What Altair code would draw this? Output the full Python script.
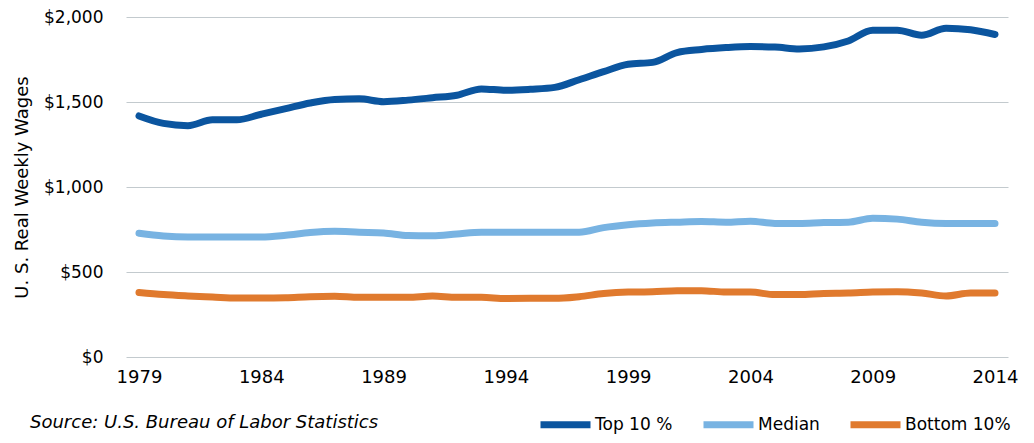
import altair as alt
import pandas as pd

years = list(range(1979, 2015))
top10 = [1418, 1374, 1361, 1395, 1395, 1428, 1461, 1494, 1515, 1519, 1502, 1511,
         1525, 1540, 1577, 1569, 1575, 1586, 1631, 1679, 1722, 1733, 1791, 1809,
         1820, 1826, 1823, 1812, 1824, 1859, 1922, 1922, 1893, 1934, 1925, 1897]
median = [728, 712, 706, 706, 706, 706, 716, 732, 739, 734, 730, 714,
          713, 724, 734, 734, 734, 734, 734, 761, 778, 788, 793, 797,
          793, 799, 786, 786, 791, 793, 816, 811, 793, 786, 786, 786]
bottom10 = [380, 367, 359, 353, 347, 347, 349, 355, 357, 351, 351, 351,
            359, 351, 351, 344, 345, 345, 355, 373, 382, 384, 390, 390,
            382, 382, 367, 367, 374, 376, 382, 384, 376, 359, 376, 376]

series_names = ["Top 10 %", "Median", "Bottom 10%"]
series_colors = ["#0b559f", "#78b3e2", "#e07a2e"]
x_ticks = [1979, 1984, 1989, 1994, 1999, 2004, 2009, 2014]
y_ticks = [0, 500, 1000, 1500, 2000]
source_note = ["Source: U.S. Bureau of Labor Statistics"]

rows = []
for k, (name, vals) in enumerate(zip(series_names, [top10, median, bottom10])):
    for yr, v in zip(years, vals):
        rows.append({"year": yr, "wage": v, "series": name, "order": k})
df = pd.DataFrame(rows)

FONT = "DejaVu Sans"

lines = alt.Chart(df).mark_line(
    strokeWidth=7, strokeCap="round", strokeJoin="round", interpolate="monotone"
).encode(
    x=alt.X("year:Q",
            scale=alt.Scale(domain=[1979, 2014], nice=False, zero=False, padding=13),
            axis=alt.Axis(values=x_ticks, format="d", grid=False, ticks=False, domain=False,
                          labelPadding=11, labelFontSize=18, labelColor="#000000",
                          labelFont=FONT, title=None)),
    y=alt.Y("wage:Q",
            scale=alt.Scale(domain=[0, 2000], nice=False),
            axis=alt.Axis(values=y_ticks, format="$,.0f", grid=True, gridColor="#c3cace",
                          gridWidth=1, ticks=False, domain=False, labelPadding=23,
                          labelFontSize=17, labelColor="#000000", labelFont=FONT,
                          title="U. S. Real Weekly Wages", titleFont=FONT, titleFontSize=18,
                          titleFontWeight="normal", titleColor="#000000", titlePadding=12)),
    color=alt.Color("series:N",
                    scale=alt.Scale(domain=series_names, range=series_colors),
                    legend=alt.Legend(orient="none", legendX=411, legendY=379,
                                      direction="horizontal", title=None,
                                      symbolType="stroke", symbolSize=2500,
                                      symbolStrokeWidth=7, labelFontSize=17,
                                      labelFont=FONT, labelColor="#000000",
                                      labelOffset=1, columnPadding=16)),
    order="order:Q",
)

note = alt.Chart(pd.DataFrame({"note": source_note})).mark_text(
    align="left", baseline="middle", font=FONT, fontSize=18, fontStyle="italic",
    color="#000000"
).encode(
    text="note:N",
    x=alt.value(-96),
    y=alt.value(406),
)

chart = alt.layer(lines, note).properties(
    width=882,
    height=340,
    autosize=alt.AutoSizeParams(type="none"),
    padding={"left": 118, "top": 9, "right": 10, "bottom": 78},
).configure_view(strokeWidth=0)

chart.save("out.html", embed_options={"renderer": "svg", "actions": False})
